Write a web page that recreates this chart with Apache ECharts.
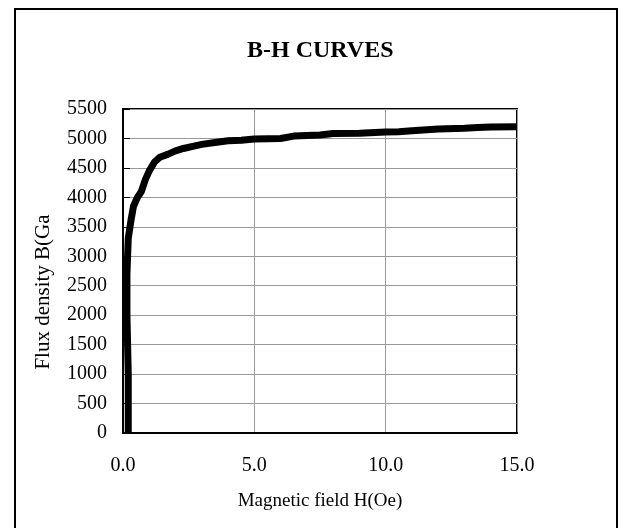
<!DOCTYPE html>
<html>
<head>
<meta charset="utf-8">
<title>B-H CURVES</title>
<script src="https://cdn.jsdelivr.net/npm/echarts@6/dist/echarts.min.js"></script>
<style>
  html, body { margin: 0; padding: 0; background: #fff; }
  #chart { width: 622px; height: 528px; }
</style>
</head>
<body>
<div id="chart"></div>
<script>
// 磁场强度 H(Oe)
const hField = [0.2, 0.2, 0.15, 0.15, 0.2, 0.3, 0.4, 0.55, 0.7, 0.85,
  1.0, 1.2, 1.4, 1.7, 2.0, 2.3, 2.7, 3.0, 3.5, 4.0,
  4.5, 5.0, 5.5, 6.0, 6.5, 7.0, 7.5, 8.0, 9.0, 10.0,
  10.5, 11.0, 12.0, 13.0, 13.5, 14.0, 15.0];
// 磁通密度 B(Gauss)
const fluxB = [0, 1000, 2000, 2700, 3300, 3600, 3850, 4000, 4100, 4300,
  4450, 4600, 4680, 4730, 4790, 4830, 4870, 4900, 4930, 4960,
  4970, 4990, 4995, 5000, 5040, 5050, 5060, 5085, 5090, 5110,
  5115, 5130, 5160, 5175, 5185, 5195, 5200];

const serif = '"Liberation Serif", "Times New Roman", serif';

const chart = echarts.init(document.getElementById("chart"));

chart.setOption({
  animation: false,
  backgroundColor: "#fff",
  title: {
    text: "B-H CURVES",
    left: 242,
    top: 34,
    textStyle: { fontFamily: serif, fontSize: 24, fontWeight: "bold", color: "#000" },
  },
  grid: {
    left: 123,
    top: 109,
    right: 105,
    bottom: 95,
    show: true,
    borderColor: "#000",
    borderWidth: 2,
  },
  xAxis: {
    type: "value",
    min: 0,
    max: 15,
    interval: 5,
    name: "Magnetic field H(Oe)",
    nameLocation: "middle",
    nameGap: 59,
    nameTextStyle: { fontFamily: serif, fontSize: 19, color: "#000" },
    axisLine: { lineStyle: { color: "#000", width: 2 } },
    axisTick: { show: false },
    axisLabel: {
      margin: 23,
      fontFamily: serif,
      fontSize: 20,
      color: "#000",
      formatter: (v) => v.toFixed(1),
    },
    splitLine: { show: true, lineStyle: { color: "#999", width: 1 } },
  },
  yAxis: {
    type: "value",
    min: 0,
    max: 5500,
    interval: 500,
    axisLine: { show: true, lineStyle: { color: "#000", width: 2 } },
    axisTick: { show: true, inside: true, length: 7, lineStyle: { color: "#000" } },
    axisLabel: {
      margin: 16,
      fontFamily: serif,
      fontSize: 20,
      color: "#000",
      formatter: (v) => String(v),
    },
    splitLine: { show: true, lineStyle: { color: "#999", width: 1 } },
  },
  graphic: [
    // 外框
    {
      type: "rect",
      shape: { x: 15, y: 9, width: 602, height: 540 },
      style: { fill: null, stroke: "#000", lineWidth: 2 },
      silent: true,
    },
    // y 轴标题
    {
      type: "text",
      x: 43,
      y: 292,
      rotation: Math.PI / 2,
      style: {
        text: "Flux density B(Ga",
        font: '21px "Liberation Serif", serif',
        fill: "#000",
        align: "center",
        verticalAlign: "middle",
      },
    },
  ],
  series: [
    {
      type: "line",
      data: hField.map((h, i) => [h, fluxB[i]]),
      showSymbol: false,
      smooth: false,
      lineStyle: { color: "#000", width: 7 },
    },
  ],
});
</script>
</body>
</html>
